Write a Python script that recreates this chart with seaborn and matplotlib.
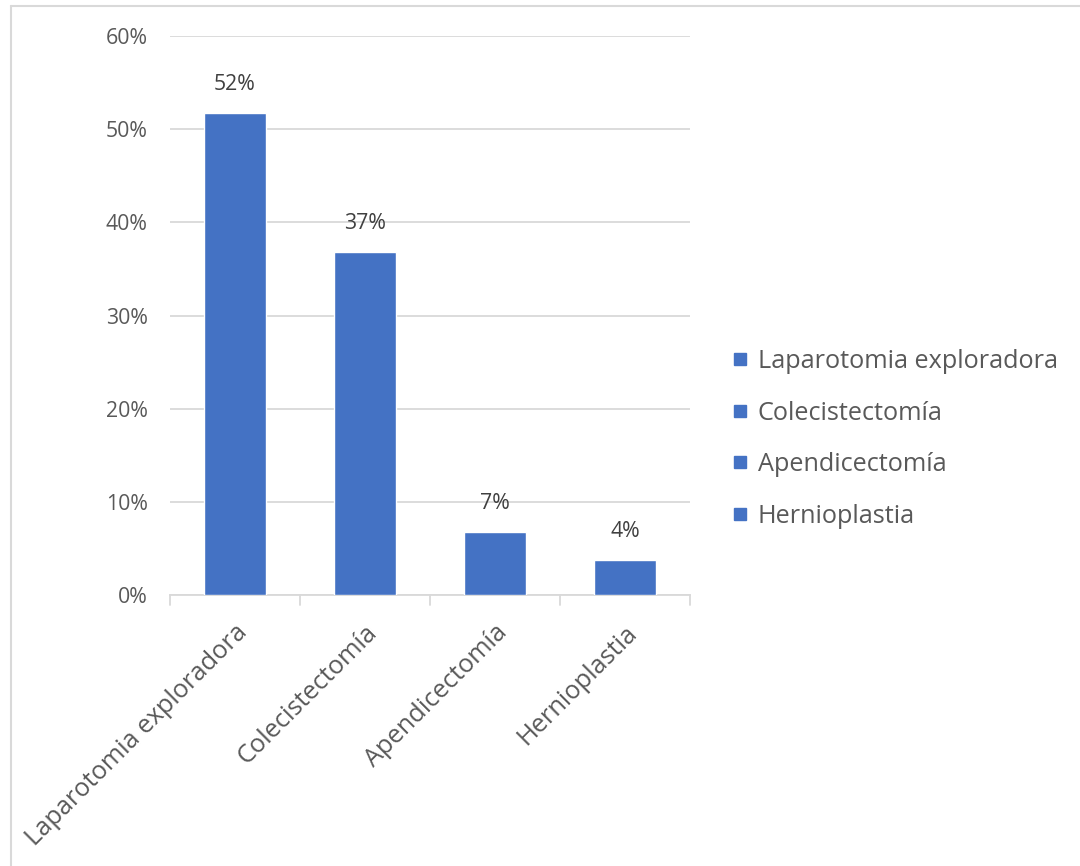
import matplotlib
matplotlib.use("Agg")
import matplotlib.pyplot as plt
import seaborn as sns
import pandas as pd
from matplotlib.lines import Line2D
from matplotlib.ticker import PercentFormatter, MultipleLocator

# Surgical procedures and their share of cases
procedures = ["Laparotomia exploradora", "Colecistectomía", "Apendicectomía", "Hernioplastia"]
shares = [0.517, 0.368, 0.068, 0.038]

BLUE = "#4472C4"
GRID = "#d9d9d9"
TEXT = "#595959"

sns.set_theme(style="white")
plt.rcParams["font.family"] = ["Open Sans", "DejaVu Sans"]

df = pd.DataFrame({"procedure": procedures, "share": shares})

fig = plt.figure(figsize=(10.8, 8.66), dpi=100)
ax = fig.add_axes([170 / 1080, 1 - 595 / 866, 520 / 1080, 559 / 866])

sns.barplot(
    data=df, x="procedure", y="share", hue="procedure",
    palette=[BLUE] * len(procedures), dodge=False, width=0.47,
    saturation=1, ax=ax, legend=True, zorder=3,
)

ax.set_ylim(0, 0.6)
ax.set_xlim(-0.5, len(procedures) - 0.5)
ax.yaxis.set_major_locator(MultipleLocator(0.1))
ax.yaxis.set_major_formatter(PercentFormatter(1.0, decimals=0))
ax.grid(axis="y", color=GRID, linewidth=1.3, zorder=0)
ax.set_xlabel("")
ax.set_ylabel("")

for side in ["top", "right", "left"]:
    ax.spines[side].set_visible(False)
ax.spines["bottom"].set_color(GRID)
ax.spines["bottom"].set_linewidth(1.3)

ax.tick_params(axis="y", length=0, labelsize=15.3, labelcolor=TEXT, pad=16)
ax.set_xticks(range(len(procedures)))
ax.set_xticklabels(procedures, rotation=45, ha="right", rotation_mode="anchor",
                   fontsize=18.3, color=TEXT)
ax.tick_params(axis="x", length=0, pad=18)

# category boundary tick marks below the axis
for b in [i - 0.5 for i in range(len(procedures) + 1)]:
    ax.plot([b, b], [0, -0.011], color=GRID, linewidth=1.3, clip_on=False, zorder=2)

for container in ax.containers:
    ax.bar_label(container, labels=[f"{v:.0%}" for v in container.datavalues],
                 padding=13, fontsize=15.3, color="#404040")

handles = [Line2D([], [], marker="s", linestyle="", markersize=9,
                  markerfacecolor=BLUE, markeredgecolor=BLUE) for _ in procedures]
ax.legend(handles, procedures, loc="center left", bbox_to_anchor=(706 / 1080, 1 - 439 / 866),
          bbox_transform=fig.transFigure, frameon=False, fontsize=18.2,
          labelcolor=TEXT, handletextpad=0.25, labelspacing=1.05, handlelength=0.9)

# chart area border (top and left edges)
fig.add_artist(Line2D([11 / 1080, 1], [1 - 6 / 866, 1 - 6 / 866], color=GRID,
                      linewidth=1.5, transform=fig.transFigure))
fig.add_artist(Line2D([11 / 1080, 11 / 1080], [0, 1 - 6 / 866], color=GRID,
                      linewidth=1.5, transform=fig.transFigure))

fig.savefig("out.png", dpi=100, facecolor="white")
